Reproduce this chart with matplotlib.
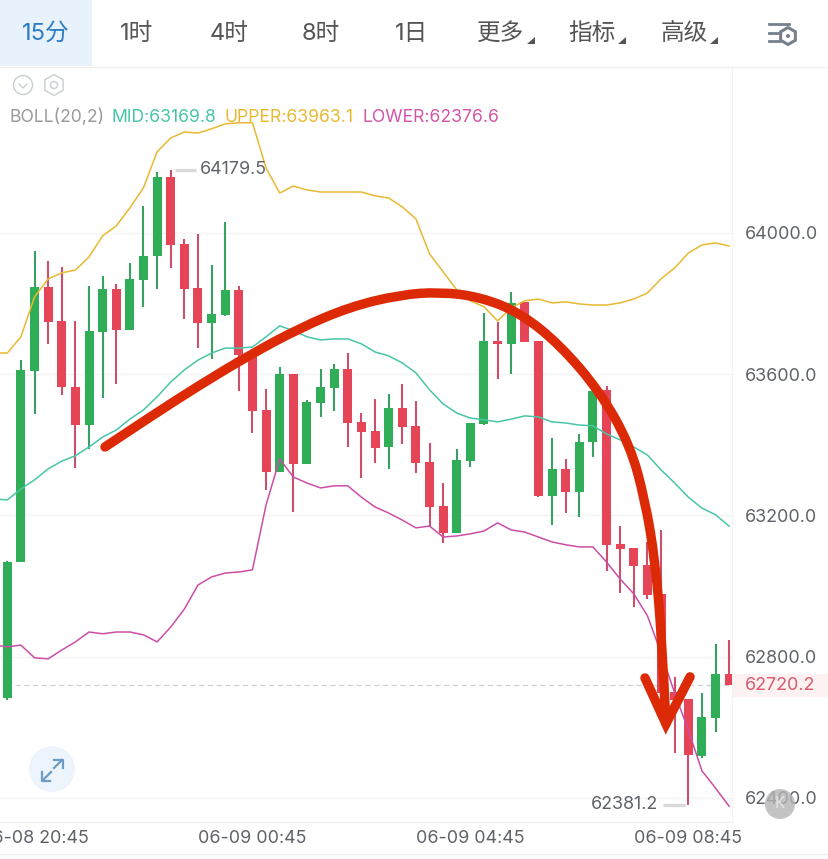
import numpy as np
import matplotlib
matplotlib.use('Agg')
import matplotlib.pyplot as plt
from matplotlib.patches import Circle, Rectangle, Polygon, RegularPolygon, PathPatch
from matplotlib.path import Path

plt.rcParams['font.family'] = ['Inter', 'Noto Sans CJK SC', 'DejaVu Sans']

# candle data, oldest first
opens = [62683, 63068, 63609, 63847, 63751, 63564, 63456, 63720, 63842, 63725, 63867, 63935, 64159, 63969,
         63844, 63745, 63768, 63839, 63655, 63499, 63323, 63601, 63346, 63519, 63561, 63615, 63465, 63439,
         63394, 63505, 63454, 63352, 63227, 63151, 63354, 63459, 63694, 63686, 63805, 63694, 63255, 63332,
         63267, 63408, 63555, 63119, 63108, 63060, 62978, 62700, 62680, 62519, 62627, 62751]
closes = [63068, 63612, 63847, 63748, 63564, 63456, 63723, 63842, 63725, 63870, 63935, 64159, 63966, 63842,
          63745, 63771, 63839, 63655, 63496, 63323, 63601, 63346, 63522, 63564, 63615, 63462, 63437, 63391,
          63505, 63451, 63349, 63224, 63151, 63357, 63462, 63694, 63686, 63802, 63691, 63255, 63332, 63267,
          63408, 63553, 63117, 63105, 63057, 62975, 62697, 62678, 62522, 62629, 62751, 62720.2]
highs = [63071, 63640, 63949, 63921, 63904, 63751, 63850, 63878, 63856, 63915, 64077, 64172, 64179.5, 63983,
         63997, 63910, 64031, 63850, 63655, 63558, 63621, 63601, 63527, 63615, 63629, 63660, 63490, 63530,
         63544, 63573, 63524, 63405, 63292, 63388, 63462, 63774, 63748, 63833, 63805, 63694, 63420, 63360,
         63431, 63558, 63567, 63170, 63108, 63125, 63159, 62743, 62680, 62697, 62836, 62848]
lows = [62678, 63068, 63488, 63686, 63541, 63335, 63388, 63533, 63573, 63725, 63791, 63842, 63901, 63757,
        63674, 63643, 63765, 63553, 63434, 63272, 63323, 63210, 63346, 63479, 63496, 63394, 63306, 63349,
        63332, 63403, 63320, 63168, 63122, 63151, 63337, 63456, 63587, 63601, 63691, 63252, 63173, 63207,
        63196, 63366, 63043, 62981, 62941, 62964, 62658, 62527, 62381.2, 62513, 62587, 62720.2]

# bollinger bands, one extra point left of the first candle
upper = [63660, 63660, 63706, 63819, 63870, 63887, 63895, 63932, 63992, 64020, 64071, 64128, 64230, 64269,
         64286, 64283, 64295, 64309, 64312, 64312, 64184, 64113, 64133, 64122, 64116, 64116, 64116, 64116,
         64105, 64099, 64074, 64040, 63941, 63890, 63839, 63808, 63791, 63751, 63788, 63808, 63813, 63802,
         63805, 63799, 63796, 63796, 63802, 63813, 63830, 63870, 63901, 63943, 63966, 63972, 63963.1]
mid = [63247, 63244, 63275, 63301, 63332, 63354, 63369, 63394, 63422, 63442, 63473, 63499, 63536, 63578,
       63612, 63640, 63660, 63674, 63674, 63677, 63706, 63737, 63723, 63706, 63697, 63700, 63700, 63686,
       63663, 63652, 63632, 63604, 63556, 63516, 63490, 63476, 63471, 63465, 63473, 63482, 63479, 63465,
       63462, 63456, 63454, 63431, 63414, 63394, 63371, 63329, 63292, 63252, 63221, 63202, 63169.8]
lower = [62833, 62828, 62833, 62797, 62794, 62819, 62842, 62870, 62865, 62870, 62870, 62862, 62842, 62884,
         62935, 63003, 63026, 63037, 63040, 63046, 63230, 63360, 63309, 63292, 63278, 63284, 63284, 63252,
         63224, 63207, 63187, 63165, 63170, 63139, 63142, 63148, 63156, 63179, 63159, 63153, 63139, 63125,
         63117, 63111, 63111, 63068, 63020, 62978, 62916, 62811, 62697, 62593, 62477, 62428, 62376.6]

# hand drawn red arc and arrow head, in candle index / price
arc_x = [7.17, 10.48, 14.15, 17.82, 21.49, 25.17, 28.84, 31.77, 34.71, 37.65, 40.58, 43.52, 45.72, 46.82,
         47.56, 48.07, 48.36]
arc_y = [63394, 63479, 63570, 63655, 63731, 63791, 63825, 63833, 63819, 63774, 63683, 63550, 63400, 63244,
         63074, 62848, 62610]
head_x = [46.82, 48.36, 50.13]
head_y = [62740, 62610, 62743]

y_ticks = [64000, 63600, 63200, 62800, 62400]
x_ticks = [2, 18, 34, 50]
x_labels = ['06-08 20:45', '06-09 00:45', '06-09 04:45', '06-09 08:45']
last_price = 62720.2
high_label = 64179.5
low_label = 62381.2

tabs = ['15分', '1时', '4时', '8时', '1日', '更多', '指标', '高级']
tab_x = [46, 137, 229, 321, 412, 501, 592, 684]

GREEN = '#2fae57'
RED = '#e64558'
GREY_TEXT = '#5f6368'

fig = plt.figure(figsize=(8.29, 8.59), dpi=100, facecolor='white')
W, H = 829, 859

# chart area
ax = fig.add_axes([0, (H - 822) / H, 732 / W, (822 - 67) / H])
ax.set_xlim(-0.536, 53.21)
ax.set_ylim(62332, 64470)
for s in ['top', 'left']:
    ax.spines[s].set_visible(False)
ax.spines['right'].set_color('#f3f3f3')
ax.spines['bottom'].set_color('#eeeeee')

ax.yaxis.tick_right()
ax.set_yticks(y_ticks)
ax.set_yticklabels(['%.1f' % v for v in y_ticks], fontsize=12.9, color=GREY_TEXT)
ax.set_xticks(x_ticks)
ax.set_xticklabels(x_labels, fontsize=12.9, color=GREY_TEXT)
ax.tick_params(axis='y', length=0, pad=9)
ax.tick_params(axis='x', length=0, pad=6)
ax.grid(axis='y', color='#f4f4f4', lw=1)
ax.set_axisbelow(True)

# last price line
ax.plot([0.55, 53.21], [last_price, last_price], color='#cfcfcf', lw=0.9, ls=(0, (4, 3)), zorder=1)

idx = np.arange(len(opens))
o = np.array(opens)
c = np.array(closes)
colors = [GREEN if c[i] > o[i] else RED for i in idx]
wick_colors = ['#3a9f62' if c[i] > o[i] else '#cc4f6c' for i in idx]
ax.vlines(idx, lows, highs, colors=wick_colors, lw=1.5, zorder=2)
ax.bar(idx, np.abs(c - o), bottom=np.minimum(o, c), width=0.66, color=colors, zorder=3)

line_x = np.arange(-1, len(opens))
ax.plot(line_x, upper, color='#e8b932', lw=1.1, zorder=4)
ax.plot(line_x, mid, color='#48c5a8', lw=1.1, zorder=4)
ax.plot(line_x, lower, color='#cb4ea6', lw=1.1, zorder=4)

# arc as a smooth curve, the read points are the control points
pts = np.column_stack([arc_x, arc_y])
verts = [pts[0]]
codes = [Path.MOVETO]
for i in range(1, len(pts) - 1):
    end = pts[-1] if i == len(pts) - 2 else (pts[i] + pts[i + 1]) / 2
    verts += [pts[i], end]
    codes += [Path.CURVE3, Path.CURVE3]
ax.add_patch(PathPatch(Path(verts, codes), fc='none', ec='#dd2a06', lw=6.8, capstyle='round', zorder=6))
ax.plot(head_x, head_y, color='#dd2a06', lw=6.8, solid_capstyle='round', solid_joinstyle='miter', zorder=6)

# high / low markers
ax.plot([12.3, 13.85], [high_label, high_label], color='#d9d9d9', lw=2.4, solid_capstyle='butt', zorder=5)
ax.text(14.15, high_label, '%.1f' % high_label, fontsize=12.9, color=GREY_TEXT, va='center', ha='left', zorder=5)
ax.plot([48.15, 49.75], [low_label, low_label], color='#d9d9d9', lw=2.4, solid_capstyle='butt', zorder=5)
ax.text(47.8, low_label, '%.1f' % low_label, fontsize=12.9, color=GREY_TEXT, va='center', ha='right', zorder=5)

# overlay in pixel coordinates for the app furniture
ui = fig.add_axes([0, 0, 1, 1], facecolor='none')
ui.set_xlim(0, W)
ui.set_ylim(H, 0)
ui.axis('off')

ui.add_patch(Rectangle((0, 0), 92, 66, color='#e7f2fc', lw=0))
ui.plot([0, W], [66.5, 66.5], color='#f0f0f0', lw=1)
ui.plot([0, W], [854, 854], color='#eeeeee', lw=1)
for i, t in enumerate(tabs):
    ui.text(tab_x[i], 34, t, fontsize=17, color='#2c7cc3' if i == 0 else '#555555', ha='center', va='center')
for tx in [531, 622, 714]:
    ui.add_patch(Polygon([[tx - 4, 44], [tx + 4, 44], [tx + 4, 37]], color='#555555', lw=0))

# settings icon
ui.plot([769, 789], [24, 24], color='#75808c', lw=2)
ui.plot([769, 780], [33, 33], color='#75808c', lw=2)
ui.plot([769, 780], [41, 41], color='#75808c', lw=2)
ui.add_patch(RegularPolygon((788, 36), 6, radius=8.5, fc='white', ec='#75808c', lw=2.2))
ui.add_patch(Circle((788, 36), 2, color='#75808c', lw=0))

# indicator icons
ui.add_patch(Circle((23, 85), 9.5, fc='none', ec='#c8ced6', lw=1))
ui.plot([19, 23, 27], [84, 88, 84], color='#c8ced6', lw=1)
ui.add_patch(RegularPolygon((54, 85), 6, radius=10.5, fc='none', ec='#c8ced6', lw=1))
ui.add_patch(Circle((54, 85), 3.5, fc='none', ec='#c8ced6', lw=1))

# indicator legend
ui.text(10, 117, 'BOLL(20,2)', fontsize=12.7, color='#9a9a9a', va='center')
ui.text(112, 117, 'MID:63169.8', fontsize=12.7, color='#48c5a8', va='center')
ui.text(225, 117, 'UPPER:63963.1', fontsize=12.7, color='#e8b932', va='center')
ui.text(363, 117, 'LOWER:62376.6', fontsize=12.7, color='#d356a8', va='center')

# last price tag
ui.add_patch(Rectangle((733, 674), 96, 23, color='#fdf1f1', lw=0, zorder=1))
ui.text(745, 685.5, '%.1f' % last_price, fontsize=12.9, color='#d9596e', va='center', zorder=2)

# expand button
ui.add_patch(Circle((52, 769), 23, color='#edf4fc', lw=0))
ui.plot([43, 51], [780, 772], color='#6d9cc4', lw=1.6)
ui.plot([42, 42, 50], [772, 781, 781], color='#6d9cc4', lw=1.6)
ui.plot([54, 62], [768, 760], color='#6d9cc4', lw=1.6)
ui.plot([54, 63, 63], [760, 760, 768], color='#6d9cc4', lw=1.6)

# K button
ui.add_patch(Circle((780, 804), 15, color='#b4b4b4', alpha=0.8, lw=0, zorder=5))
ui.text(780, 804, 'K', fontsize=11, color='#e4e4e4', ha='center', va='center', zorder=6)

fig.savefig('out.png', dpi=100)
